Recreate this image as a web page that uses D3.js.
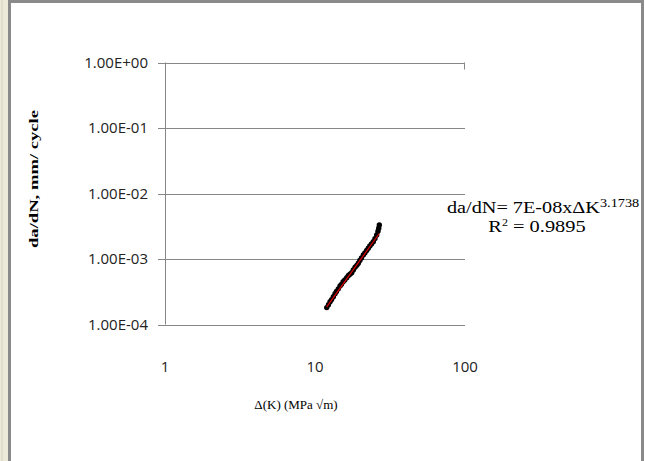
<!DOCTYPE html>
<html>
<head>
<meta charset="utf-8">
<script src="https://cdn.jsdelivr.net/npm/d3@7"></script>
<style>
  html, body { margin: 0; padding: 0; background: #fff; overflow: hidden; }
</style>
</head>
<body>
<svg id="chart" width="645" height="461"></svg>
<script>
// Crack growth data
const deltaK = [11.97, 12.3, 12.6, 12.9, 13.25, 13.6, 13.9, 14.3, 14.68, 15.0, 15.4, 15.8,
                16.27, 16.7, 17.1, 17.57, 18.0, 18.5, 19.0, 19.44, 19.9, 20.4, 20.99, 21.5,
                22.1, 22.66, 23.2, 23.8, 24.47, 25.1, 25.77, 26.3, 26.6, 26.84];
const dadN = [1.81e-4, 2.0e-4, 2.22e-4, 2.4e-4, 2.66e-4, 2.95e-4, 3.2e-4, 3.5e-4, 3.87e-4, 4.1e-4,
              4.5e-4, 4.8e-4, 5.19e-4, 5.6e-4, 5.85e-4, 6.18e-4, 6.8e-4, 7.5e-4, 8.0e-4, 8.6e-4,
              9.5e-4, 1.04e-3, 1.15e-3, 1.24e-3, 1.35e-3, 1.46e-3, 1.58e-3, 1.7e-3, 1.84e-3,
              2.05e-3, 2.32e-3, 2.65e-3, 2.95e-3, 3.30e-3];
// Power trendline end points
const trendK = [11.97, 26.8];
const trendY = [1.86e-4, 2.45e-3];

const xTicks = [1, 10, 100];
const yTicks = [1e0, 1e-1, 1e-2, 1e-3, 1e-4];
const yTickLabels = ["1.00E+00", "1.00E-01", "1.00E-02", "1.00E-03", "1.00E-04"];

const svg = d3.select("#chart");

// window chrome: beige strip on the left and grey frame
svg.append("rect").attr("x", 0).attr("y", 0).attr("width", 8).attr("height", 461).attr("fill", "#ece9d8");
svg.append("line").attr("x1", 2).attr("y1", 0).attr("x2", 2).attr("y2", 461).attr("stroke", "#d6d2c2");
svg.append("rect").attr("x", 9.5).attr("y", 1.5).attr("width", 633).attr("height", 470)
    .attr("fill", "#fff").attr("stroke", "#8a8a8a").attr("stroke-width", 3);

const x = d3.scaleLog().domain([1, 100]).range([165, 465]);
const y = d3.scaleLog().domain([1e-4, 1]).range([324.5, 62.5]);

// gridlines with small outer ticks
const grid = svg.append("g").attr("stroke", "#878787").attr("stroke-width", 1);
yTicks.forEach(t => {
    grid.append("line").attr("x1", 158).attr("x2", x(100))
        .attr("y1", Math.round(y(t)) + 0.5).attr("y2", Math.round(y(t)) + 0.5);
});
grid.append("line").attr("x1", x(1) + 0.5).attr("x2", x(1) + 0.5).attr("y1", y(1)).attr("y2", y(1e-4));
grid.append("line").attr("x1", x(100) - 0.5).attr("x2", x(100) - 0.5).attr("y1", y(1)).attr("y2", y(1) + 7);

// tick labels
const tickFont = "'Open Sans', Arial, sans-serif";
svg.append("g").selectAll("text").data(yTicks).join("text")
    .attr("x", 148).attr("y", d => y(d) + 5)
    .attr("text-anchor", "end").attr("font-family", tickFont).attr("font-size", 15)
    .attr("fill", "#222").text((d, i) => yTickLabels[i]);
svg.append("g").selectAll("text").data(xTicks).join("text")
    .attr("x", d => x(d)).attr("y", 372)
    .attr("text-anchor", "middle").attr("font-family", tickFont).attr("font-size", 15)
    .attr("fill", "#222").text(d => d);

// data line and markers
const pts = deltaK.map((k, i) => [k, dadN[i]]);
svg.append("path").datum(pts)
    .attr("d", d3.line().x(d => x(d[0])).y(d => y(d[1])))
    .attr("fill", "none").attr("stroke", "#000").attr("stroke-width", 3.2);
svg.append("g").selectAll("circle").data(pts).join("circle")
    .attr("cx", d => x(d[0])).attr("cy", d => y(d[1])).attr("r", 2.7).attr("fill", "#000");

// trendline
svg.append("line")
    .attr("x1", x(trendK[0])).attr("y1", y(trendY[0]))
    .attr("x2", x(trendK[1])).attr("y2", y(trendY[1]))
    .attr("stroke", "#e00000").attr("stroke-width", 1.2);

// axis titles
const serif = "'Liberation Serif', 'Times New Roman', serif";
svg.append("text").attr("transform", "translate(38,179) rotate(-90)")
    .attr("text-anchor", "middle").attr("font-family", serif).attr("font-size", 13.5)
    .attr("font-weight", "bold").attr("textLength", 138).attr("lengthAdjust", "spacingAndGlyphs")
    .text("da/dN, mm/ cycle");
svg.append("text").attr("x", 296).attr("y", 409)
    .attr("text-anchor", "middle").attr("font-family", serif).attr("font-size", 13)
    .text("\u0394(K) (MPa \u221Am)");

// equation label, slightly stretched like the original
const eq = svg.append("text").attr("transform", "translate(447,213) scale(1.19,1)")
    .attr("font-family", serif).attr("font-size", 17);
eq.append("tspan").text("da/dN= 7E-08x\u0394K");
eq.append("tspan").attr("font-size", 12).attr("dy", -6).text("3.1738");
const r2 = svg.append("text").attr("transform", "translate(537,232) scale(1.2,1)")
    .attr("text-anchor", "middle").attr("font-family", serif).attr("font-size", 17);
r2.append("tspan").text("R");
r2.append("tspan").attr("font-size", 10).attr("dy", -6).text("2");
r2.append("tspan").attr("dy", 6).text(" = 0.9895");
</script>
</body>
</html>
